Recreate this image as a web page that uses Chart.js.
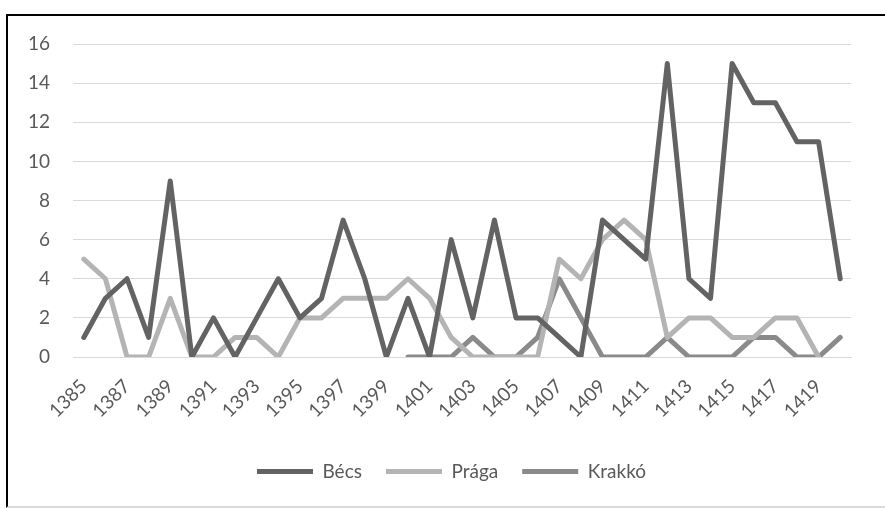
<!DOCTYPE html>
<html>
<head>
<meta charset="utf-8">
<script src="https://cdn.jsdelivr.net/npm/chart.js@4"></script>
<style>
  html, body { margin: 0; padding: 0; background: #fff; }
  #frame {
    position: absolute; left: 6px; top: 14px; width: 877px; height: 490px;
    border-top: 2px solid #000; border-left: 2px solid #000;
    border-bottom: 2px solid #d9d9d9;
  }
</style>
</head>
<body>
<div id="frame"><canvas id="lineChart" width="877" height="490"></canvas></div>
<script>
const years = [];
for (let y = 1385; y <= 1420; y++) years.push(String(y));

const becs   = [1,3,4,1,9,0,2,0,2,4,2,3,7,4,0,3,0,6,2,7,2,2,1,0,7,6,5,15,4,3,15,13,13,11,11,4];
const praga  = [5,4,0,0,3,0,0,1,1,0,2,2,3,3,3,4,3,1,0,0,0,0,5,4,6,7,6,1,2,2,1,1,2,2,0,null];
const krakko = [null,null,null,null,null,null,null,null,null,null,null,null,null,null,null,
                0,0,0,1,0,0,1,4,2,0,0,0,1,0,0,0,1,1,0,0,1];
const yTicks = [0, 2, 4, 6, 8, 10, 12, 14, 16];

const textColor = '#595959';
const font = { family: 'Lato', size: 19 };

const line = (label, data, color) => ({
    label: label,
    data: data,
    borderColor: color,
    backgroundColor: color,
    borderWidth: 5,
    borderCapStyle: 'round',
    borderJoinStyle: 'round',
    pointRadius: 0,
    tension: 0,
    spanGaps: false
});

new Chart(document.getElementById('lineChart').getContext('2d'), {
    type: 'line',
    data: {
        labels: years,
        datasets: [
            line('Bécs', becs, '#636363'),
            line('Prága', praga, '#b4b4b4'),
            line('Krakkó', krakko, '#8a8a8a')
        ]
    },
    options: {
        responsive: false,
        animation: false,
        layout: { padding: { left: 20, right: 10, top: 28, bottom: 15 } },
        plugins: {
            tooltip: { enabled: false },
            legend: {
                position: 'bottom',
                labels: {
                    usePointStyle: true,
                    pointStyle: 'line',
                    pointStyleWidth: 56,
                    boxHeight: 5,
                    color: textColor,
                    font: font,
                    padding: 24
                }
            }
        },
        scales: {
            x: {
                offset: true,
                grid: { display: false, drawTicks: false },
                border: { display: true, color: '#d9d9d9' },
                // keep the plot 34px off the right edge while the legend centres on the frame
                afterFit: axis => { axis.height = 81; axis.paddingLeft = 0; axis.paddingRight = 34; },
                ticks: {
                    color: textColor,
                    font: font,
                    autoSkip: false,
                    maxRotation: 45,
                    minRotation: 45,
                    padding: 18,
                    callback: function (v, i) { return i % 2 === 0 ? this.getLabelForValue(v) : null; }
                }
            },
            y: {
                min: 0,
                max: 16,
                afterBuildTicks: axis => { axis.ticks = yTicks.map(v => ({ value: v })); },
                afterFit: axis => { axis.width = 45; axis.paddingTop = 0; axis.paddingBottom = 0; },
                grid: { color: '#d9d9d9', lineWidth: 1, drawTicks: false },
                border: { display: false },
                ticks: { color: textColor, font: font, padding: 23 }
            }
        }
    }
});
</script>
</body>
</html>
